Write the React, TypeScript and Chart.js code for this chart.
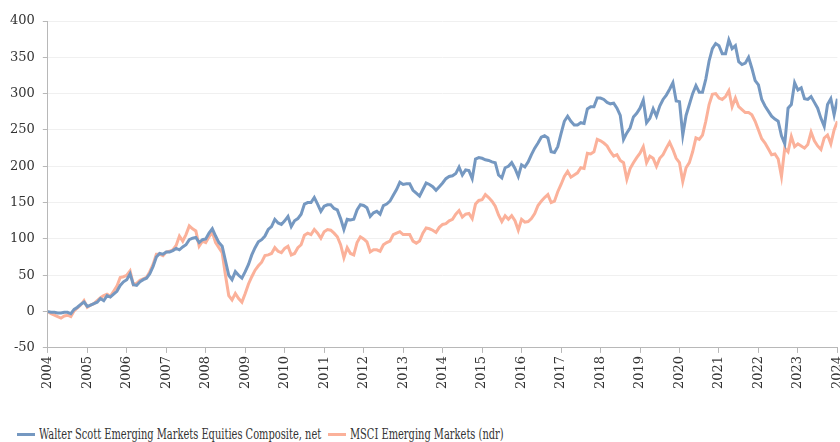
import React, { useEffect, useRef } from "react";
import { Chart, registerables } from "chart.js";

Chart.register(...registerables);

const START_YEAR = 2004;
const END_YEAR = 2024;
const Y_TICKS_MIN = -50;
const Y_TICKS_MAX = 400;
const Y_STEP = 50;

const SERIES_NAMES = [
  "Walter Scott Emerging Markets Equities Composite, net",
  "MSCI Emerging Markets (ndr)",
];
const SERIES_COLORS = ["#7598c1", "#fbb19a"];

// Monthly cumulative return (%), Jan 2004 .. Jan 2024
const walterScott = [
  0, -1, -1, -2, -2, -1, -1, -3, 3, 6, 10, 13, // 2004
  7, 9, 11, 13, 18, 15, 22, 20, 24, 28, 36, 41, // 2005
  44, 52, 37, 36, 41, 44, 46, 52, 62, 75, 80, 79, // 2006
  82, 82, 84, 87, 85, 89, 92, 99, 101, 102, 95, 99, // 2007
  100, 108, 114, 104, 95, 90, 70, 50, 44, 55, 50, 46, // 2008
  55, 65, 78, 88, 96, 99, 104, 113, 117, 127, 122, 120, // 2009
  125, 131, 117, 125, 128, 134, 148, 150, 150, 157, 148, 138, // 2010
  145, 147, 147, 142, 140, 128, 113, 127, 126, 127, 140, 147, // 2011
  146, 143, 131, 136, 138, 134, 146, 148, 152, 160, 168, 178, // 2012
  175, 176, 176, 167, 163, 159, 168, 177, 175, 172, 167, 172, // 2013
  177, 183, 186, 187, 190, 199, 188, 195, 194, 183, 210, 212, // 2014
  211, 209, 208, 206, 205, 188, 184, 198, 200, 205, 197, 186, // 2015
  202, 199, 206, 216, 225, 232, 240, 242, 239, 220, 219, 227, // 2016
  245, 262, 269, 262, 257, 257, 260, 259, 279, 282, 282, 294, // 2017
  294, 292, 288, 286, 287, 280, 270, 237, 246, 253, 268, 273, // 2018
  280, 291, 260, 266, 279, 269, 283, 292, 298, 306, 315, 290, // 2019
  289, 243, 270, 285, 300, 311, 302, 302, 320, 345, 362, 369, // 2020
  366, 355, 355, 374, 362, 366, 344, 340, 342, 350, 335, 318, // 2021
  312, 292, 283, 276, 269, 265, 262, 242, 231, 280, 285, 315, // 2022
  305, 308, 293, 292, 296, 288, 280, 266, 255, 285, 293, 271, // 2023
  293, // 2024
];

const msciEM = [
  0, -3, -5, -7, -9, -6, -5, -7, 1, 5, 9, 15, // 2004
  6, 9, 11, 15, 19, 22, 24, 21, 28, 35, 47, 48, // 2005
  50, 56, 37, 39, 43, 45, 47, 55, 65, 79, 79, 77, // 2006
  82, 83, 85, 91, 104, 97, 106, 118, 114, 111, 90, 97, // 2007
  95, 103, 109, 95, 88, 81, 50, 22, 16, 25, 18, 13, // 2008
  25, 38, 48, 57, 63, 68, 77, 78, 80, 88, 83, 81, // 2009
  87, 90, 78, 80, 88, 92, 105, 108, 106, 113, 108, 101, // 2010
  110, 113, 112, 108, 103, 92, 74, 88, 80, 78, 95, 103, // 2011
  100, 96, 82, 85, 85, 83, 92, 95, 97, 106, 108, 110, // 2012
  106, 106, 106, 97, 94, 97, 108, 115, 114, 112, 109, 116, // 2013
  120, 121, 125, 127, 134, 139, 130, 134, 135, 128, 148, 153, // 2014
  154, 161, 157, 152, 145, 133, 124, 132, 127, 132, 125, 112, // 2015
  127, 123, 124, 128, 135, 146, 152, 157, 161, 150, 152, 165, // 2016
  175, 186, 193, 185, 188, 191, 198, 197, 218, 217, 220, 237, // 2017
  235, 232, 228, 220, 214, 216, 208, 205, 182, 197, 205, 212, // 2018
  218, 227, 205, 214, 211, 200, 211, 216, 225, 233, 223, 211, // 2019
  205, 179, 198, 205, 220, 239, 237, 243, 262, 285, 299, 300, // 2020
  294, 292, 296, 304, 282, 294, 282, 278, 274, 274, 271, 262, // 2021
  250, 238, 232, 224, 216, 217, 210, 186, 225, 220, 241, 227, // 2022
  231, 228, 225, 230, 247, 235, 228, 223, 239, 243, 231, 250, // 2023
  262, // 2024
];

const SERIES_VALUES = [walterScott, msciEM];

const TICK_FONT = "'DejaVu Serif', 'Liberation Serif', serif";
const LEGEND_LEFTS = [17, 328];

export default function App() {
  const canvasRef = useRef<HTMLCanvasElement | null>(null);

  useEffect(() => {
    if (!canvasRef.current) return;
    const datasets = SERIES_VALUES.map((vals, k) => ({
      label: SERIES_NAMES[k],
      data: vals.map((v, i) => ({ x: START_YEAR + i / 12, y: v })),
      borderColor: SERIES_COLORS[k],
      backgroundColor: SERIES_COLORS[k],
      borderWidth: 3,
      pointRadius: 0,
      tension: 0,
      fill: false,
    }));
    const chart = new Chart(canvasRef.current, {
      type: "line",
      data: { datasets },
      options: {
        animation: false,
        responsive: false,
        maintainAspectRatio: false,
        layout: { padding: { top: 21, left: 2, right: 0, bottom: 0 } },
        plugins: { legend: { display: false }, tooltip: { enabled: false } },
        scales: {
          x: {
            type: "linear",
            min: START_YEAR,
            max: END_YEAR,
            grid: {
              display: true,
              drawOnChartArea: false,
              drawTicks: true,
              tickLength: 5,
              tickColor: "#b8b8b8",
            },
            border: { display: true, color: "#b8b8b8", width: 1 },
            ticks: {
              stepSize: 1,
              autoSkip: false,
              minRotation: 90,
              maxRotation: 90,
              padding: 3,
              color: "#333",
              font: { family: TICK_FONT, size: 13 },
              callback: (v: any) => String(v),
            },
          },
          y: {
            min: Y_TICKS_MIN,
            max: Y_TICKS_MAX,
            grid: {
              color: "#f0f0f0",
              tickColor: "#b8b8b8",
              tickLength: 5,
              lineWidth: 1,
            },
            border: { display: true, color: "#b8b8b8", width: 1 },
            ticks: {
              stepSize: Y_STEP,
              padding: 8,
              color: "#333",
              font: { family: TICK_FONT, size: 13 },
            },
          },
        },
      },
    });
    return () => chart.destroy();
  }, []);

  return (
    <div
      style={{
        position: "fixed",
        left: 0,
        top: 0,
        width: 840,
        height: 442,
        overflow: "hidden",
        background: "#fff",
      }}
    >
      <canvas
        ref={canvasRef}
        width={856}
        height={392}
        style={{ position: "absolute", left: 0, top: 0, width: 856, height: 392 }}
      />
      {SERIES_NAMES.map((name, k) => (
        <div
          key={name}
          style={{
            position: "absolute",
            left: LEGEND_LEFTS[k],
            top: 424,
            height: 20,
            lineHeight: "20px",
            display: "flex",
            alignItems: "center",
            fontFamily: "'DejaVu Serif', serif",
            fontSize: 14,
            color: "#333",
            whiteSpace: "nowrap",
          }}
        >
          <span
            style={{
              display: "inline-block",
              width: 18,
              height: 3,
              background: SERIES_COLORS[k],
              marginRight: 4,
            }}
          />
          <span
            style={{
              display: "inline-block",
              transform: "scaleX(0.705)",
              transformOrigin: "left center",
            }}
          >
            {name}
          </span>
        </div>
      ))}
    </div>
  );
}
